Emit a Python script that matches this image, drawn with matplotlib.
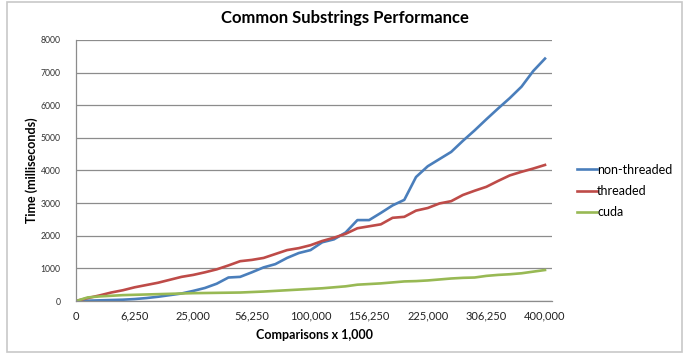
import matplotlib.pyplot as plt
from matplotlib.patches import Rectangle

# category axis: comparisons x 1,000 (41 points, labelled every 5th)
comparisons = [250 * i * i for i in range(41)]

non_threaded = [0, 10, 20, 30, 40, 60, 90, 130, 180, 230,
                310, 400, 530, 720, 740, 880, 1030, 1130, 1320, 1470,
                1560, 1800, 1890, 2100, 2480, 2480, 2700, 2930, 3100, 3800,
                4130, 4350, 4570, 4910, 5230, 5570, 5900, 6220, 6570, 7050,
                7430]
threaded = [0, 90, 170, 260, 330, 420, 490, 560, 650, 740,
            800, 880, 970, 1090, 1220, 1260, 1320, 1440, 1560, 1620,
            1710, 1840, 1940, 2060, 2230, 2290, 2350, 2550, 2580, 2770,
            2850, 2990, 3060, 3250, 3380, 3500, 3680, 3850, 3960, 4060,
            4170]
cuda = [0, 110, 140, 160, 180, 190, 200, 210, 220, 230,
        240, 245, 250, 255, 260, 275, 290, 310, 330, 350,
        370, 390, 420, 450, 500, 520, 540, 570, 600, 610,
        630, 660, 690, 710, 720, 770, 800, 820, 850, 900,
        950]

plt.rcParams['font.family'] = ['Lato', 'DejaVu Sans']

fig = plt.figure(figsize=(6.86, 3.53), dpi=100)
ax = fig.add_axes([0.1108, 0.1473, 0.6939, 0.7394])

idx = list(range(len(comparisons)))
ax.plot(idx, non_threaded, color='#4A7EBB', lw=1.9, label='non-threaded')
ax.plot(idx, threaded, color='#BE4B48', lw=1.9, label='threaded')
ax.plot(idx, cuda, color='#98B954', lw=1.9, label='cuda')

ax.set_xlim(0, 40.6)
ax.set_ylim(0, 8000)
ax.set_yticks(range(0, 8001, 1000))
ax.set_yticklabels([str(v) for v in range(0, 8001, 1000)], fontsize=6.2, color='#333333')
ax.set_xticks(idx[::5])
ax.set_xticklabels([f'{comparisons[i]:,}' for i in idx[::5]], fontsize=8, color='#222222')
ax.tick_params(axis='both', length=0)
ax.tick_params(axis='y', pad=11)
ax.tick_params(axis='x', pad=7)

ax.grid(axis='y', color='#8c8c8c', lw=0.9)
ax.set_axisbelow(True)
for s in ['top', 'right']:
    ax.spines[s].set_visible(False)
for s in ['left', 'bottom']:
    ax.spines[s].set_color('#8c8c8c')
    ax.spines[s].set_linewidth(0.9)

ax.set_xlabel('Comparisons x 1,000', fontsize=9, fontweight='bold', labelpad=5)
ax.set_ylabel('Time (milliseconds)', fontsize=9, fontweight='bold', labelpad=2)
fig.text(0.503, 0.948, 'Common Substrings Performance', ha='center', va='center',
         fontsize=12, fontweight='bold')

fig.legend(loc='center left', bbox_to_anchor=(0.825, 0.459), frameon=False,
           fontsize=9, handlelength=1.6, handletextpad=0.0, labelspacing=0.75)

# chart area border
fig.patches.append(Rectangle((0.010, 0.003), 0.984, 0.991, transform=fig.transFigure,
                             fill=False, edgecolor='#c8c8c8', lw=1.2))

fig.savefig('out.png', dpi=100)
